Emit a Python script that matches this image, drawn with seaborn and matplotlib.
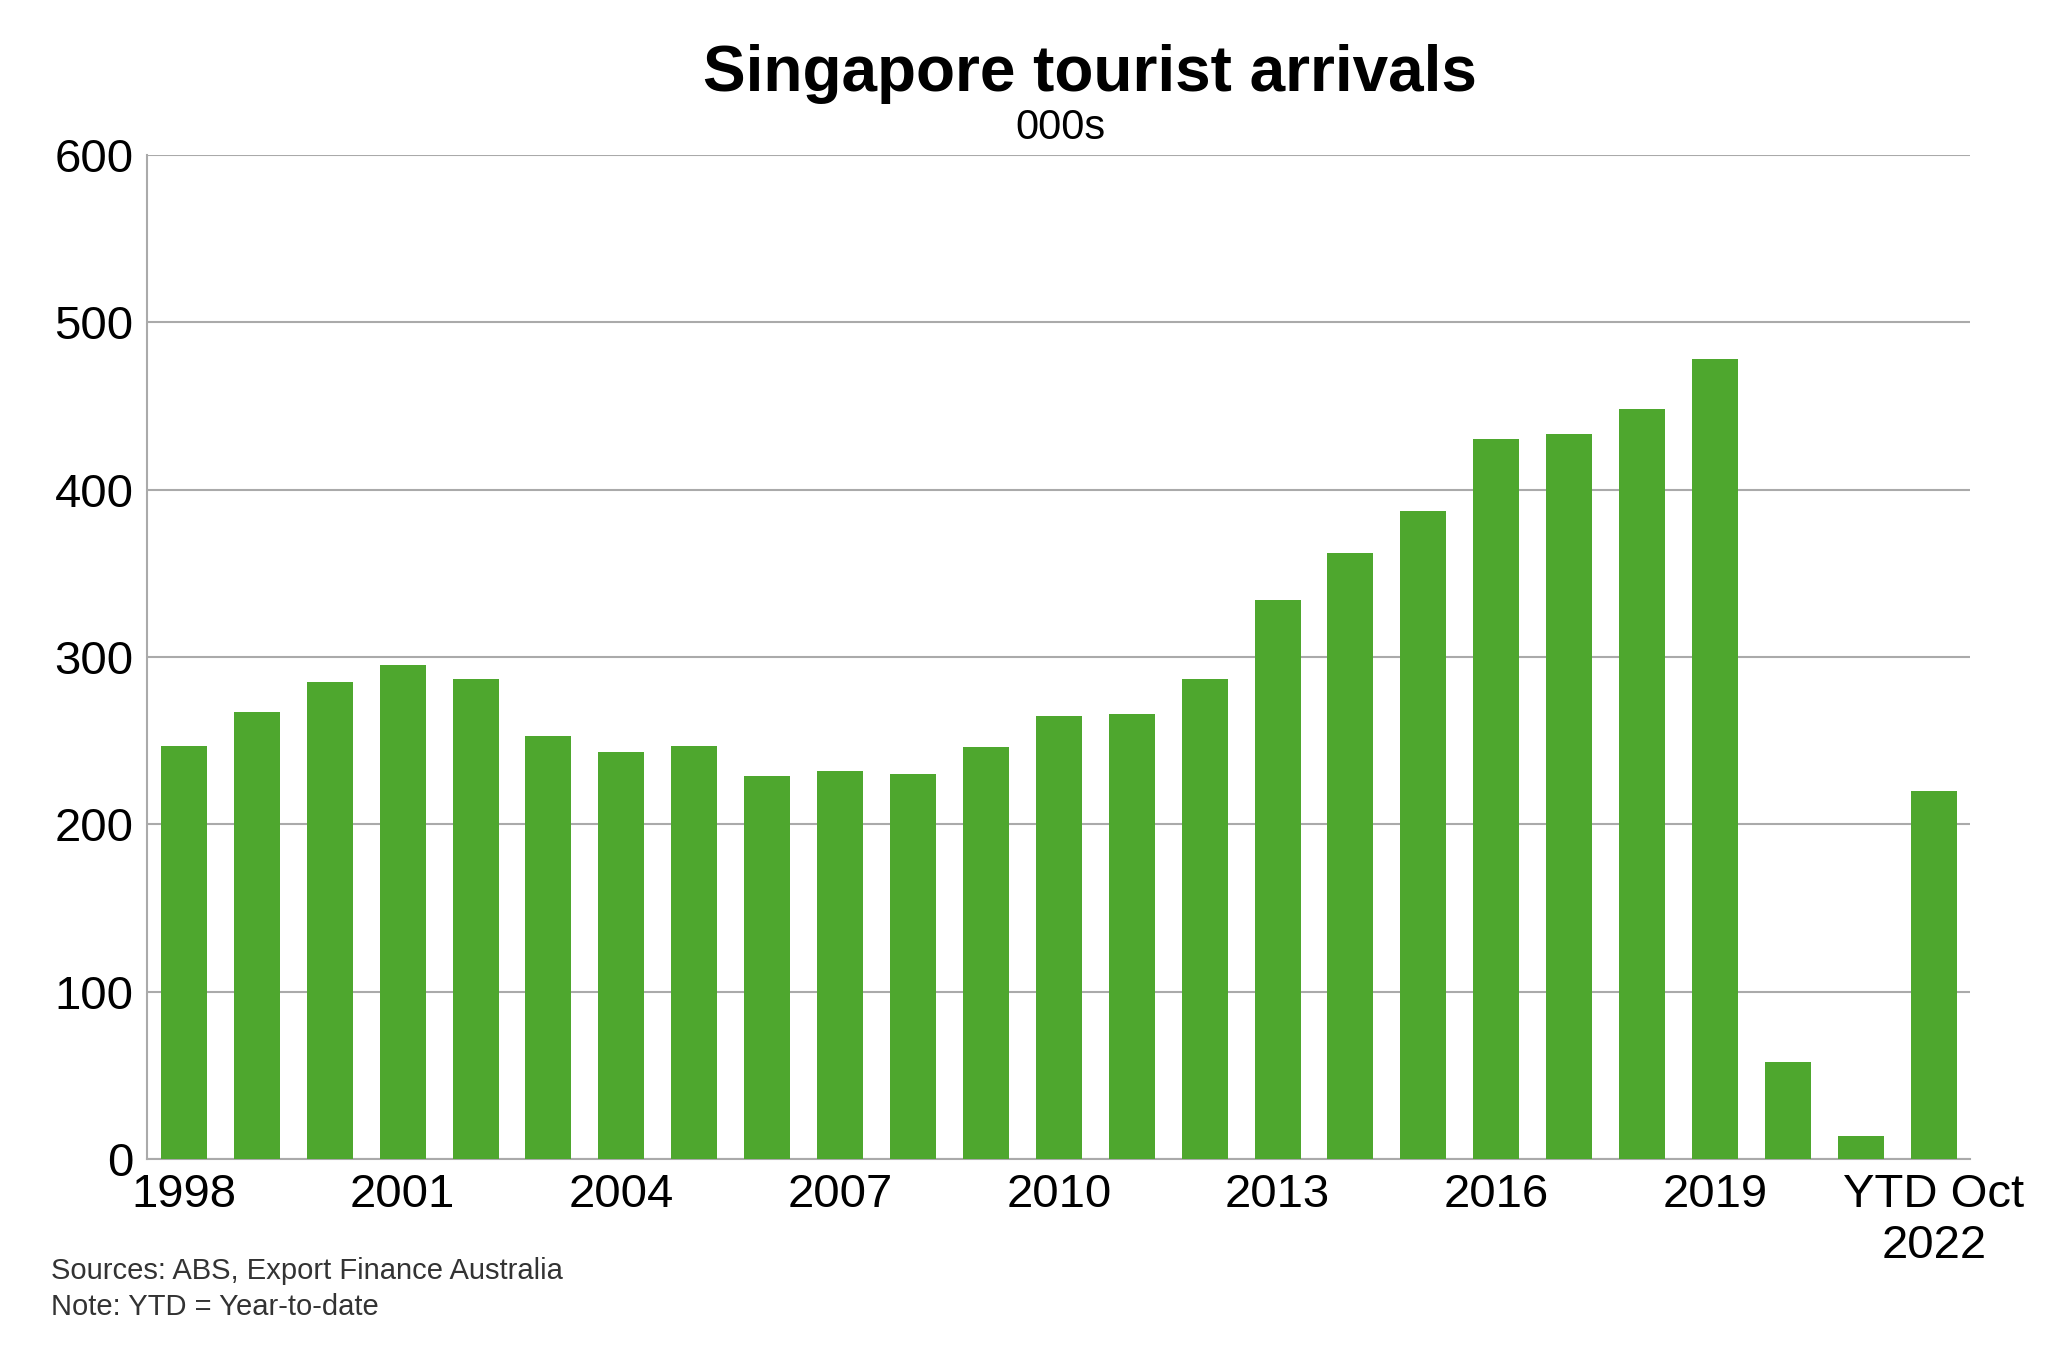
import matplotlib
matplotlib.use("Agg")
import matplotlib.pyplot as plt
import seaborn as sns
import pandas as pd

years = [str(y) for y in range(1998, 2022)] + ["YTD Oct\n2022"]
arrivals = [247, 267, 285, 295, 287, 253, 243, 247, 229, 232, 230, 246, 265, 266,
            287, 334, 362, 387, 430, 433, 448, 478, 58, 14, 220]
yticks = [0, 100, 200, 300, 400, 500, 600]

df = pd.DataFrame({"year": years, "v": arrivals})
plt.rcParams["font.family"] = "Liberation Sans"
fig = plt.figure(figsize=(20.48, 13.45), dpi=100)
ax = fig.add_axes([0.072, 0.138, 0.89, 0.747])
sns.barplot(data=df, x="year", y="v", color="#4EA72E", saturation=1, width=0.63, ax=ax, zorder=3)
ax.set_ylim(0, 600)
ax.set_xlim(-0.5, len(years) - 0.5)
ax.set_yticks(yticks)
ax.set_yticklabels([str(t) for t in yticks], fontsize=34)
ax.yaxis.grid(True, color="#AAAAAA", linewidth=1.5, zorder=0)
pos = list(range(0, 24, 3)) + [24]
ax.set_xticks(pos)
ax.set_xticklabels([years[i] for i in pos], fontsize=34)
ax.tick_params(length=0, pad=10)
ax.set_xlabel(""); ax.set_ylabel("")
for s in ["top", "right"]:
    ax.spines[s].set_visible(False)
ax.spines["left"].set_color("#AAAAAA"); ax.spines["bottom"].set_color("#AAAAAA")
ax.spines["left"].set_linewidth(1.5); ax.spines["bottom"].set_linewidth(1.5)
fig.text(0.532, 0.945, "Singapore tourist arrivals", ha="center", va="center", fontsize=46, fontweight="bold")
fig.text(0.518, 0.905, "000s", ha="center", va="center", fontsize=30)
fig.text(0.025, 0.055, "Sources: ABS, Export Finance Australia", fontsize=21, color="#333333", va="center")
fig.text(0.025, 0.028, "Note: YTD = Year-to-date", fontsize=21, color="#333333", va="center")
fig.savefig("out.png")
